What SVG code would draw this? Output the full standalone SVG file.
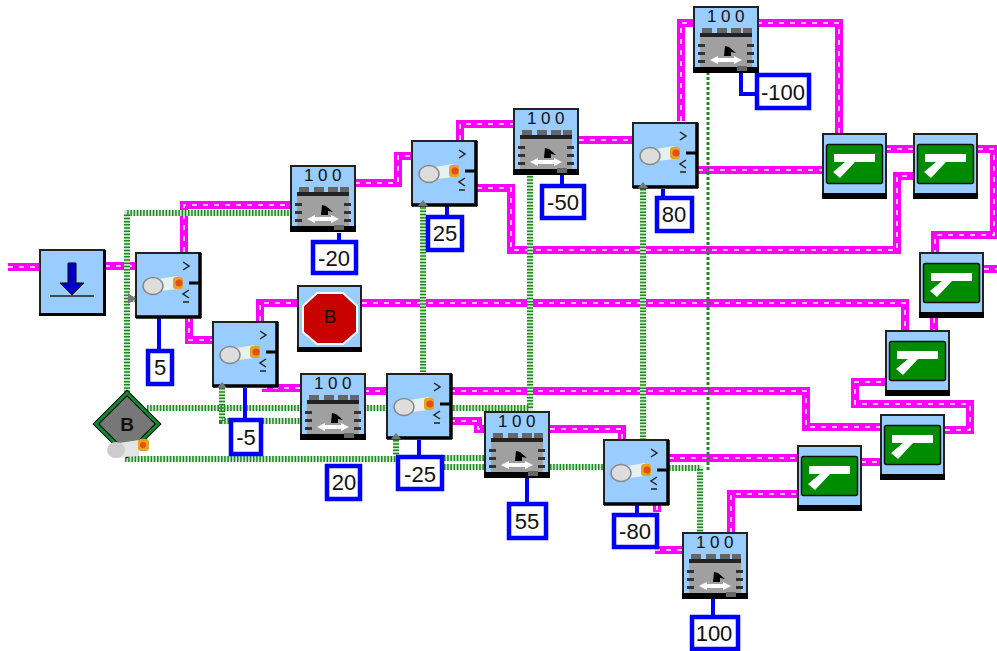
<svg xmlns="http://www.w3.org/2000/svg" xmlns:xlink="http://www.w3.org/1999/xlink" width="997" height="651" viewBox="0 0 997 651">
<style>
text{font-family:"Liberation Sans",Arial,sans-serif;fill:#111}
.mb{fill:none;stroke:#ff00ff;stroke-width:8}
.md{fill:none;stroke:#fff;stroke-width:1.600;stroke-dasharray:5 6}
.gb{fill:none;stroke:#cfe8cf;stroke-width:6}
.gd{fill:none;stroke:#1f8a1f;stroke-width:6;stroke-dasharray:1.500 1.700}
.gf{fill:none;stroke:#1f8a1f;stroke-width:3;stroke-dasharray:3 2}
.st{fill:none;stroke:#0000ff;stroke-width:4}
.num{fill:#fff;stroke:#0000ff;stroke-width:4.500}
.nt{font-size:22px;text-anchor:middle}
.tt{font-size:17px;text-anchor:middle;letter-spacing:4.500px}
.sky{fill:#99ccff;stroke:#222;stroke-width:2}
.bar{fill:#000}
</style>
<defs>
<g id="mag">
<path d="M8 267H39"/>
<path d="M105 266H135"/>
<path d="M184 252V205H290"/>
<path d="M189 317V340H212"/>
<path d="M260 321V303H298"/>
<path d="M362 303H905V330"/>
<path d="M262 388H300"/>
<path d="M364 391H386"/>
<path d="M450 391H806V427H880"/>
<path d="M450 421H478V429H484"/>
<path d="M550 429H622V439"/>
<path d="M669 458H797"/>
<path d="M861 462H880"/>
<path d="M657 505V512"/>
<path d="M655 550H682"/>
<path d="M731 533V494H797"/>
<path d="M945 430H970V404H855V382H885"/>
<path d="M934 318V330"/>
<path d="M984 269H997"/>
<path d="M978 149H994V235H935V252"/>
<path d="M886 149H913"/>
<path d="M698 170H822"/>
<path d="M477 188H511V250H897V176H913"/>
<path d="M579 140H632"/>
<path d="M460 140V124H513"/>
<path d="M355 183H398V156H411"/>
<path d="M681 121V23H693"/>
<path d="M757 23H839V133"/>
</g>
<g id="grn">
<path d="M127 392V213H290"/>
<path d="M128 299H135"/>
<path d="M147 408H300"/>
<path d="M364 408H386"/>
<path d="M450 408H530V174"/>
<path d="M222 388V421H300"/>
<path d="M125 459H396"/>
<path d="M444 458H484"/>
<path d="M444 467H484"/>
<path d="M550 467H603"/>
<path d="M396 440V455"/>
<path d="M423 372V206"/>
<path d="M643 189V439"/>
<path d="M669 468H700V533"/>
</g>
<g id="sensor">
<rect class="sky" x="1" y="1" width="64" height="64"/>
<path d="M1 65H66M65 1V66" stroke="#000" stroke-width="3.500" fill="none"/>
<path d="M48 10l6 4-6 4" fill="none" stroke="#222" stroke-width="1.500"/>
<path d="M54 38l-6 4 6 4M48 50h6" fill="none" stroke="#222" stroke-width="1.500"/>
<path d="M54 31H65" stroke="#000" stroke-width="3"/>
<path d="M24 27 42 24V37L26 39Z" fill="#e6f2f2"/>
<ellipse cx="18" cy="34" rx="10" ry="8.500" fill="#ddd" stroke="#888" stroke-width="1.500"/>
<rect x="38" y="25" width="10" height="12" rx="3" fill="#e8a020"/>
<circle cx="44" cy="31" r="3.500" fill="#e05010"/>
</g>
<g id="tower">
<rect class="sky" x="1" y="1" width="64" height="65"/>
<rect class="bar" y="61" width="66" height="6"/>
<rect x="7" y="27" width="52" height="34" fill="#a0a0a0"/>
<path d="M7 27H59V31H7Z" fill="#222"/>
<path d="M9 22h10v5H9ZM24 22h10v5H24ZM38 22h10v5H38ZM50 22h9v5h-9Z" fill="#666"/>
<path d="M5 38h7v3H5ZM5 46h7v3H5ZM5 54h7v3H5ZM54 38h7v3h-7ZM54 46h7v3h-7ZM54 54h7v3h-7Z" fill="#333"/>
<path d="M31 50 32 40 36 41 43 47 38 46 38 50Z" fill="#000"/>
<path d="M17 54 25 50V52H41V50L49 54 41 58V56H25V58Z" fill="#fff"/>
<rect x="44" y="60" width="10" height="5" fill="#666"/>
</g>
<g id="green">
<rect class="sky" x="1" y="1" width="63" height="64"/>
<rect class="bar" y="60" width="65" height="6"/>
<rect x="4.500" y="11.500" width="56" height="39" rx="2" fill="#008c00" stroke="#111" stroke-width="1.500"/>
<path d="M12 21H53V29H33L18 45 11 39 23 29H12Z" fill="#fff"/>
</g>
</defs>

<g id="connectors">
<use href="#mag" class="mb"/>
<use href="#mag" class="md"/>
<use href="#grn" class="gb"/>
<use href="#grn" class="gd"/>
<path class="gf" d="M708 72V470"/>
<path class="st" d="M159 317V349"/>
<path class="st" d="M245 388V418"/>
<path class="st" d="M339 233V240"/>
<path class="st" d="M447 206V215"/>
<path class="st" d="M562 174V184"/>
<path class="st" d="M663 189V196"/>
<path class="st" d="M741 72V94H755"/>
<path class="st" d="M419 440V455"/>
<path class="st" d="M527 478V502"/>
<path class="st" d="M637 505V513"/>
<path class="st" d="M713 597V615"/>
</g>

<g id="start">
<rect class="sky" x="40" y="250" width="64" height="64"/>
<path d="M39 314.500H105M104.500 250V316" stroke="#000" stroke-width="3"/>
<path d="M68 263H76V283H84L72 295 60 283H68Z" fill="#0000c8" stroke="#000" stroke-width="1"/>
<path d="M50 296H94" stroke="#222" stroke-width="1.500"/>
</g>

<g id="sensor-5"><use href="#sensor" x="135" y="252"/><path d="M128 293l8 6-8 5Z" fill="#777"/></g>
<g id="sensor--5"><use href="#sensor" x="212" y="321"/><path d="M217 388l5-6 5 6Z" fill="#777"/></g>
<g id="sensor-25"><use href="#sensor" x="411" y="140"/><path d="M418 206l5-6 5 6Z" fill="#777"/></g>
<g id="sensor-80"><use href="#sensor" x="632" y="122"/><path d="M638 188l5-6 5 6Z" fill="#777"/></g>
<g id="sensor--25"><use href="#sensor" x="386" y="373"/><path d="M391 439l5-6 5 6Z" fill="#777"/></g>
<g id="sensor--80"><use href="#sensor" x="603" y="439"/></g>

<g id="tower-a"><use href="#tower" x="290" y="165"/><text class="tt" x="325" y="181">100</text></g>
<g id="tower-b"><use href="#tower" x="513" y="108"/><text class="tt" x="548" y="124">100</text></g>
<g id="tower-c"><use href="#tower" x="693" y="6"/><text class="tt" x="728" y="22">100</text></g>
<g id="tower-d"><use href="#tower" x="300" y="373"/><text class="tt" x="335" y="389">100</text></g>
<g id="tower-e"><use href="#tower" x="484" y="411"/><text class="tt" x="519" y="427">100</text></g>
<g id="tower-f"><use href="#tower" x="682" y="532"/><text class="tt" x="717" y="548">100</text></g>

<g id="stop">
<rect class="sky" x="298" y="286" width="63" height="64"/>
<rect class="bar" x="297" y="347" width="65" height="5"/>
<path d="M317 293H343L357 306V332L343 344H317L303 332V306Z" fill="#c80000" stroke="#fff" stroke-width="2"/>
<text x="330" y="323" font-size="19" text-anchor="middle">B</text>
</g>

<g id="diamond">
<path d="M127 393 158 424 127 455 96 424Z" fill="#777" stroke="#000" stroke-width="5"/>
<path d="M127 393 158 424 127 455 96 424Z" fill="none" stroke="#108a30" stroke-width="3"/>
<text x="127" y="431" font-size="19" font-weight="bold" text-anchor="middle">B</text>
<path d="M112 444 139 440V456L112 458Z" fill="#e4e4e4"/>
<ellipse cx="116" cy="450" rx="9" ry="8" fill="#ccc"/>
<rect x="138" y="439" width="11" height="12" rx="3" fill="#e8a020"/>
<circle cx="143" cy="445" r="3" fill="#e05010"/>
</g>

<g id="green-1"><use href="#green" x="822" y="133"/></g>
<g id="green-2"><use href="#green" x="913" y="133"/></g>
<g id="green-3"><use href="#green" x="919" y="252"/></g>
<g id="green-4"><use href="#green" x="885" y="330"/></g>
<g id="green-5"><use href="#green" x="880" y="414"/></g>
<g id="green-6"><use href="#green" x="797" y="445"/></g>

<g id="num-5"><rect class="num" x="148" y="351" width="24" height="33"/><text class="nt" x="160" y="375">5</text></g>
<g id="num--5"><rect class="num" x="231" y="420" width="30" height="34"/><text class="nt" x="246" y="445">-5</text></g>
<g id="num--20"><rect class="num" x="313" y="242" width="43" height="31"/><text class="nt" x="334" y="266">-20</text></g>
<g id="num-20"><rect class="num" x="327" y="466" width="33" height="33"/><text class="nt" x="344" y="490">20</text></g>
<g id="num-25"><rect class="num" x="428" y="217" width="34" height="33"/><text class="nt" x="445" y="241">25</text></g>
<g id="num--50"><rect class="num" x="542" y="186" width="42" height="32"/><text class="nt" x="563" y="210">-50</text></g>
<g id="num-80"><rect class="num" x="657" y="198" width="35" height="33"/><text class="nt" x="674" y="222">80</text></g>
<g id="num--100"><rect class="num" x="757" y="75" width="52" height="33"/><text class="nt" x="783" y="100">-100</text></g>
<g id="num--25"><rect class="num" x="398" y="457" width="44" height="32"/><text class="nt" x="420" y="482">-25</text></g>
<g id="num-55"><rect class="num" x="509" y="504" width="37" height="34"/><text class="nt" x="527" y="529">55</text></g>
<g id="num--80"><rect class="num" x="614" y="515" width="43" height="32"/><text class="nt" x="635" y="539">-80</text></g>
<g id="num-100"><rect class="num" x="692" y="617" width="46" height="32"/><text class="nt" x="714" y="641">100</text></g>
</svg>
